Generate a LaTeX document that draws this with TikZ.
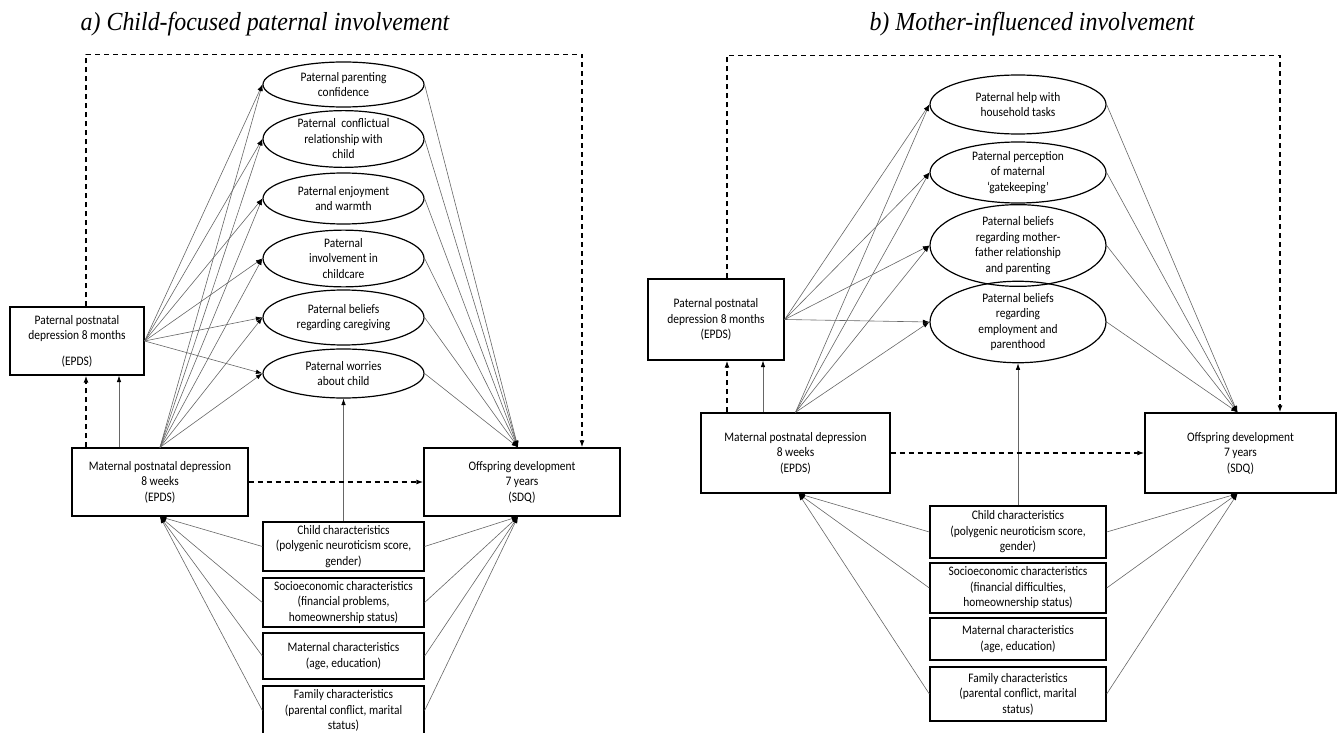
\documentclass[tikz,border=0pt]{standalone}
\usepackage{fontspec}
\setmainfont{Carlito}[FakeStretch=0.88]
\newfontfamily\titlefont{Liberation Serif}[FakeStretch=0.92]
\usetikzlibrary{shapes.geometric,arrows.meta,calc}
\begin{document}
\begin{tikzpicture}[x=1pt,y=-1pt,
  txt/.style={font=\fontsize{13}{15.5}\selectfont, align=center, inner sep=0pt},
  box/.style={txt, draw, rectangle, line width=1.3pt},
  ell/.style={txt, draw, ellipse, line width=1.2pt},
  conn/.style={draw=black!60, line width=0.6pt, -{Latex[length=6.5pt,width=4.5pt,color=black]}},
  dasharr/.style={line width=1.5pt, dash pattern=on 5pt off 4pt, -{Latex[length=7pt,width=5pt]}},
  ttl/.style={font=\titlefont\itshape\fontsize{26}{30}\selectfont, inner sep=0pt}]
\useasboundingbox (0,0) rectangle (1342,733);

% ---------------- titles ----------------
\node[ttl] (tA) at (265,24) {a) Child-focused paternal involvement};
\node[ttl] (tB) at (1032,24) {b) Mother-influenced involvement};

% ================= panel a =================
\node[box, minimum width=134, minimum height=68] (pL) at (77,341)
  {Paternal postnatal\\depression 8 months\\[10pt](EPDS)};
\node[box, minimum width=176, minimum height=68] (mL) at (160,482)
  {Maternal postnatal depression\\8 weeks\\(EPDS)};
\node[box, minimum width=196, minimum height=68] (oL) at (522,482)
  {Offspring development\\7 years\\(SDQ)};

\node[ell, minimum width=161, minimum height=45] (e1) at (343.5,84.5)
  {Paternal parenting\\confidence};
\node[ell, minimum width=161, minimum height=52] (e2) at (343.5,139)
  {Paternal\ \ conflictual\\relationship with\\child};
\node[ell, minimum width=161, minimum height=51] (e3) at (343.5,198.5)
  {Paternal enjoyment\\and warmth};
\node[ell, minimum width=161, minimum height=53] (e4) at (343.5,258.5)
  {Paternal\\involvement in\\childcare};
\node[ell, minimum width=161, minimum height=55] (e5) at (343.5,317.5)
  {Paternal beliefs\\regarding caregiving};
\node[ell, minimum width=161, minimum height=49] (e6) at (343.5,373.5)
  {Paternal worries\\about child};

\node[box, minimum width=161, minimum height=49] (cL1) at (343.5,546.5)
  {Child characteristics\\(polygenic neuroticism score,\\gender)};
\node[box, minimum width=161, minimum height=49] (cL2) at (343.5,602.5)
  {Socioeconomic characteristics\\(financial problems,\\homeownership status)};
\node[box, minimum width=161, minimum height=46] (cL3) at (343.5,656)
  {Maternal characteristics\\(age, education)};
\node[box, minimum width=161, minimum height=49] (cL4) at (343.5,710.5)
  {Family characteristics\\(parental conflict, marital\\status)};

\foreach \e in {e1,e2,e3,e4,e5,e6} {
  \draw[conn] (pL.east) -- (\e.west);
  \draw[conn] (mL.north) -- (\e.west);
  \draw[conn] (\e.east) -- ([xshift=-4pt]oL.north);
}
\foreach \c in {cL1,cL2,cL3,cL4} {
  \draw[conn] (\c.west) -- (mL.south);
  \draw[conn] (\c.east) -- ([xshift=-4pt]oL.south);
}
\draw[conn] (cL1.north) -- (e6.south);

\coordinate (pLd) at ([xshift=9pt]pL.north);
\coordinate (pLs) at ([xshift=42pt]pL.south);
\coordinate (oLd) at ([xshift=60pt]oL.north);
\draw[dasharr] (pLd) -- ++(0,-252) -| (oLd);
\draw[dasharr] (mL.north -| pLd) -- (pL.south -| pLd);
\draw[conn] (mL.north -| pLs) -- (pLs);
\draw[dasharr] (mL.east) -- (oL.west);

% ================= panel b =================
\node[box, minimum width=136, minimum height=81] (pR) at (716,319.5)
  {Paternal postnatal\\depression 8 months\\(EPDS)};
\node[box, minimum width=189, minimum height=80] (mR) at (795.5,453)
  {Maternal postnatal depression\\8 weeks\\(EPDS)};
\node[box, minimum width=191, minimum height=80] (oR) at (1240.5,453)
  {Offspring development\\7 years\\(SDQ)};

\node[ell, minimum width=176, minimum height=59] (r1) at (1018,104.5)
  {Paternal help with\\household tasks};
\node[ell, minimum width=176, minimum height=61] (r2) at (1018,172.5)
  {Paternal perception\\of maternal\\‘gatekeeping’};
\node[ell, minimum width=176, minimum height=67] (r3) at (1018,245.5)
  {Paternal beliefs\\regarding mother-\\father relationship\\and parenting};
\node[ell, minimum width=176, minimum height=70] (r4) at (1018,322)
  {Paternal beliefs\\regarding\\employment and\\parenthood};

\node[box, minimum width=176, minimum height=52] (cR1) at (1018,532)
  {Child characteristics\\(polygenic neuroticism score,\\gender)};
\node[box, minimum width=176, minimum height=50] (cR2) at (1018,588)
  {Socioeconomic characteristics\\(financial difficulties,\\homeownership status)};
\node[box, minimum width=176, minimum height=42] (cR3) at (1018,639)
  {Maternal characteristics\\(age, education)};
\node[box, minimum width=176, minimum height=54] (cR4) at (1018,694)
  {Family characteristics\\(parental conflict, marital\\status)};

\foreach \e in {r1,r2,r3,r4} {
  \draw[conn] (pR.east) -- (\e.west);
  \draw[conn] (mR.north) -- (\e.west);
  \draw[conn] (\e.east) -- ([xshift=-3pt]oR.north);
}
\foreach \c in {cR1,cR2,cR4} {
  \draw[conn] (\c.west) -- ([xshift=3pt]mR.south);
  \draw[conn] (\c.east) -- ([xshift=-3pt]oR.south);
}
\draw[conn] (cR1.north) -- (r4.south);

\coordinate (pRd) at ([xshift=11pt]pR.north);
\coordinate (pRs) at ([xshift=47pt]pR.south);
\coordinate (oRd) at ([xshift=39.5pt]oR.north);
\draw[dasharr] (pRd) -- ++(0,-223) -| (oRd);
\draw[dasharr] (mR.north -| pRd) -- (pR.south -| pRd);
\draw[conn] (mR.north -| pRs) -- (pRs);
\draw[dasharr] (mR.east) -- (oR.west);
\end{tikzpicture}
\end{document}
